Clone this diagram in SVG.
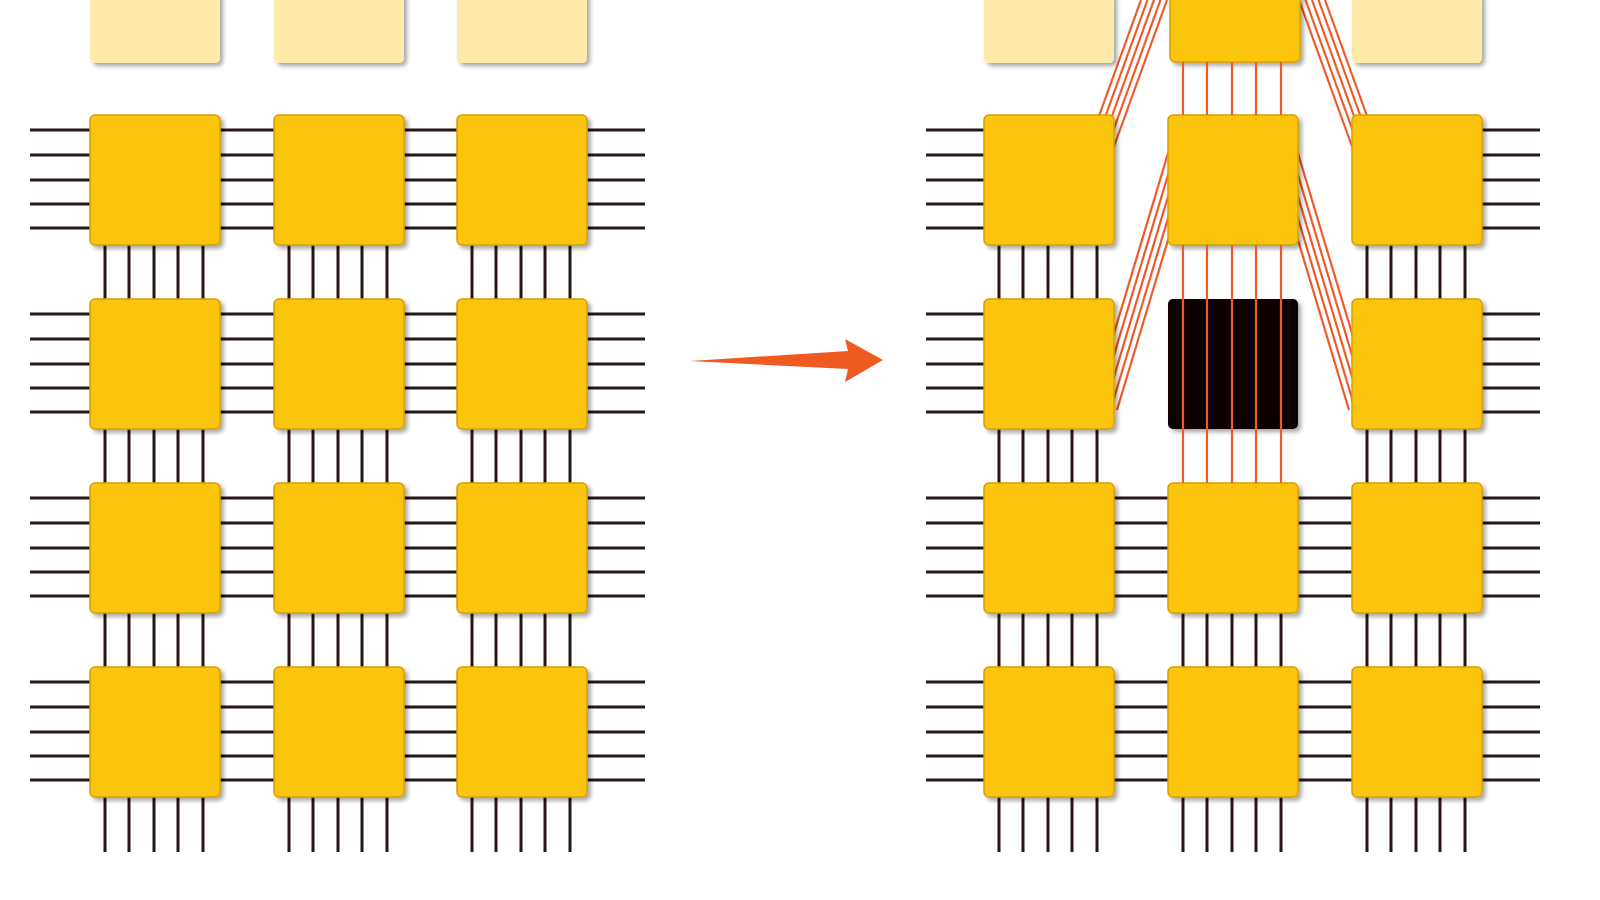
<svg xmlns="http://www.w3.org/2000/svg" width="1600" height="900" viewBox="0 0 1600 900">
<defs>
<filter id="sh" x="-10%" y="-10%" width="130%" height="130%"><feDropShadow dx="3" dy="3" stdDeviation="2" flood-color="#000" flood-opacity="0.35"/></filter>
</defs>
<style>
.p{stroke:#2a1616;stroke-width:3}
.o{stroke:#f05a28;stroke-width:2.2}
.sq{fill:#fcc50c;stroke:#d6a000;stroke-width:1.5;filter:url(#sh)}
.fd{fill:#feeaa9;filter:url(#sh)}
</style>
<rect width="1600" height="900" fill="#fff"/>
<g id="connectors">
<g class="p">
<path d="M30 130H645M30 155H645M30 180H645M30 204H645M30 228H645
M30 314H645M30 339H645M30 364H645M30 388H645M30 412H645
M30 498H645M30 523H645M30 548H645M30 572H645M30 596H645
M30 682H645M30 707H645M30 732H645M30 756H645M30 780H645"/>
<path d="M105 245V852M129 245V852M154 245V852M178 245V852M203 245V852
M289 245V852M313 245V852M338 245V852M362 245V852M387 245V852
M472 245V852M496 245V852M521 245V852M545 245V852M570 245V852"/>
<path d="M926 130H984M926 155H984M926 180H984M926 204H984M926 228H984
M926 314H984M926 339H984M926 364H984M926 388H984M926 412H984
M1482 130H1540M1482 155H1540M1482 180H1540M1482 204H1540M1482 228H1540
M1482 314H1540M1482 339H1540M1482 364H1540M1482 388H1540M1482 412H1540
M926 498H1540M926 523H1540M926 548H1540M926 572H1540M926 596H1540
M926 682H1540M926 707H1540M926 732H1540M926 756H1540M926 780H1540"/>
<path d="M999 245V852M1023 245V852M1048 245V852M1072 245V852M1097 245V852
M1367 245V852M1391 245V852M1416 245V852M1440 245V852M1465 245V852
M1183 613V852M1207 613V852M1232 613V852M1256 613V852M1281 613V852"/>
</g>
<g class="o">
<path d="M1141 0L1065 210M1147.5 0L1071.5 210M1154 0L1078 210M1160.5 0L1084.5 210M1167 0L1091 210
M1178 120L1091 410M1184.5 120L1097.5 410M1191 120L1104 410M1197.5 120L1110.5 410M1204 120L1117 410
M1325 0L1401 210M1318.5 0L1394.5 210M1312 0L1388 210M1305.5 0L1381.5 210M1299 0L1375 210
M1288 120L1375 410M1281.5 120L1368.5 410M1275 120L1362 410M1268.5 120L1355.5 410M1262 120L1349 410"/>
</g>
</g>
<g id="left-grid">
<rect class="fd" x="90" y="-10" width="130" height="73" rx="5"/>
<rect class="fd" x="274" y="-10" width="130" height="73" rx="5"/>
<rect class="fd" x="457" y="-10" width="130" height="73" rx="5"/>
<rect class="sq" x="90" y="115" width="130" height="130" rx="5"/>
<rect class="sq" x="274" y="115" width="130" height="130" rx="5"/>
<rect class="sq" x="457" y="115" width="130" height="130" rx="5"/>
<rect class="sq" x="90" y="299" width="130" height="130" rx="5"/>
<rect class="sq" x="274" y="299" width="130" height="130" rx="5"/>
<rect class="sq" x="457" y="299" width="130" height="130" rx="5"/>
<rect class="sq" x="90" y="483" width="130" height="130" rx="5"/>
<rect class="sq" x="274" y="483" width="130" height="130" rx="5"/>
<rect class="sq" x="457" y="483" width="130" height="130" rx="5"/>
<rect class="sq" x="90" y="667" width="130" height="130" rx="5"/>
<rect class="sq" x="274" y="667" width="130" height="130" rx="5"/>
<rect class="sq" x="457" y="667" width="130" height="130" rx="5"/>
</g>
<g id="right-grid">
<rect class="fd" x="984" y="-10" width="130" height="73" rx="5"/>
<rect class="sq" x="1170" y="-10" width="130" height="72" rx="5"/>
<rect class="fd" x="1352" y="-10" width="130" height="73" rx="5"/>
<rect class="sq" x="984" y="115" width="130" height="130" rx="5"/>
<rect class="sq" x="1168" y="115" width="130" height="130" rx="5"/>
<rect class="sq" x="1352" y="115" width="130" height="130" rx="5"/>
<rect class="sq" x="984" y="299" width="130" height="130" rx="5"/>
<rect x="1168" y="299" width="130" height="130" rx="5" fill="#0d0303" filter="url(#sh)"/>
<rect class="sq" x="1352" y="299" width="130" height="130" rx="5"/>
<rect class="sq" x="984" y="483" width="130" height="130" rx="5"/>
<rect class="sq" x="1168" y="483" width="130" height="130" rx="5"/>
<rect class="sq" x="1352" y="483" width="130" height="130" rx="5"/>
<rect class="sq" x="984" y="667" width="130" height="130" rx="5"/>
<rect class="sq" x="1168" y="667" width="130" height="130" rx="5"/>
<rect class="sq" x="1352" y="667" width="130" height="130" rx="5"/>
</g>
<g id="center-links" class="o">
<path d="M1183 62V115M1207 62V115M1232 62V115M1256 62V115M1281 62V115
M1183 245V483M1207 245V483M1232 245V483M1256 245V483M1281 245V483"/>
</g>
<g id="arrow">
<polygon points="690,361 848,351 845,339 883,360 845,382 848,369" fill="#ef5a23"/>
</g>
</svg>
